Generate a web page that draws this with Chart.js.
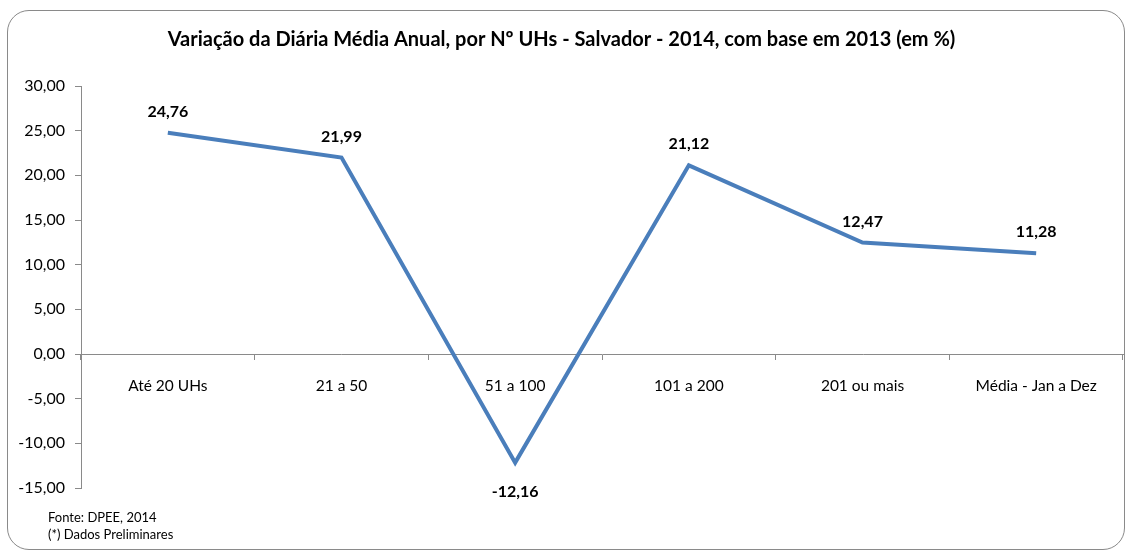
<!DOCTYPE html>
<html>
<head>
<meta charset="utf-8">
<script src="https://cdn.jsdelivr.net/npm/chart.js@4"></script>
<style>
  body { margin: 0; background: #fff; }
  #frame {
    position: absolute; left: 7px; top: 10px;
    width: 1116px; height: 538px;
    border: 1px solid #8a8a8a; border-radius: 22px;
  }
  #chart { position: absolute; left: 0; top: 0; }
</style>
</head>
<body>
<div id="frame"></div>
<canvas id="chart" width="1126" height="554"></canvas>
<script>
const categories = ["Até 20 UHs", "21 a 50", "51 a 100", "101 a 200", "201 ou mais", "Média - Jan a Dez"];
const variation = [24.76, 21.99, -12.16, 21.12, 12.47, 11.28];
const footnotes = ["Fonte: DPEE, 2014", "(*) Dados Preliminares"];

const fmt = (v) => v.toFixed(2).replace(".", ",");
const FONT = "Lato, 'Open Sans', sans-serif";

// value labels over the points, below when negative
const valueLabels = {
  id: "valueLabels",
  afterDatasetsDraw(chart) {
    const ctx = chart.ctx;
    const meta = chart.getDatasetMeta(0);
    ctx.save();
    ctx.font = "bold 16px " + FONT;
    ctx.fillStyle = "#000";
    ctx.textAlign = "center";
    ctx.textBaseline = "middle";
    meta.data.forEach((pt, i) => {
      const v = variation[i];
      const y = v < 0 ? pt.y + 29 : pt.y - 21;
      ctx.fillText(fmt(v), pt.x, y);
    });
    ctx.restore();
  },
};

const footnote = {
  id: "footnote",
  afterDraw(chart) {
    const ctx = chart.ctx;
    ctx.save();
    ctx.font = "13px " + FONT;
    ctx.fillStyle = "#000";
    ctx.textBaseline = "middle";
    footnotes.forEach((t, i) => ctx.fillText(t, 48, 518 + i * 17));
    ctx.restore();
  },
};

new Chart(document.getElementById("chart"), {
  type: "line",
  data: {
    labels: categories,
    datasets: [{
      data: variation,
      borderColor: "#4a7ebb",
      borderWidth: 4,
      pointRadius: 0,
      tension: 0,
      fill: false,
    }],
  },
  options: {
    responsive: false,
    animation: false,
    layout: { padding: { left: 0, right: 3, top: 0, bottom: 66 } },
    plugins: {
      legend: { display: false },
      tooltip: { enabled: false },
      title: {
        display: true,
        text: "Variação da Diária Média Anual, por Nº UHs - Salvador - 2014, com base em 2013 (em %)",
        color: "#000",
        font: { family: FONT, size: 20, weight: "bold" },
        padding: { top: 28, bottom: 34 },
      },
    },
    scales: {
      x: {
        position: { y: 0 },
        offset: true,
        grid: { offset: true, drawOnChartArea: false, tickLength: 5, color: "#8a8a8a" },
        border: { color: "#8a8a8a", width: 1 },
        ticks: { color: "#000", font: { family: FONT, size: 15.5 }, padding: 18, maxRotation: 0 },
      },
      y: {
        min: -15,
        max: 30,
        afterFit(scale) { scale.width = 81; },
        grid: { drawOnChartArea: false, tickLength: 6, color: "#8a8a8a" },
        border: { color: "#8a8a8a", width: 1 },
        ticks: {
          stepSize: 5,
          color: "#000",
          padding: 10,
          font: { family: FONT, size: 16 },
          callback: (v) => fmt(v),
        },
      },
    },
  },
  plugins: [valueLabels, footnote],
});
</script>
</body>
</html>
